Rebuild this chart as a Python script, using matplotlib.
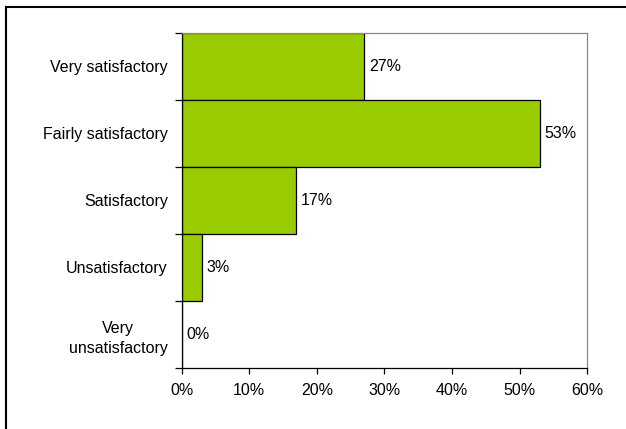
import numpy as np
import matplotlib
matplotlib.use('Agg')
import matplotlib.pyplot as plt
from matplotlib.patches import Rectangle
from matplotlib.ticker import FixedLocator, PercentFormatter

categories = ['Very satisfactory', 'Fairly satisfactory', 'Satisfactory',
              'Unsatisfactory', 'Very\nunsatisfactory']
values = [27, 53, 17, 3, 0]
xticks = [0, 10, 20, 30, 40, 50, 60]

plt.rcParams['font.family'] = ['Liberation Sans', 'DejaVu Sans']
plt.rcParams['font.size'] = 11.5

fig = plt.figure(figsize=(6.26, 4.29), dpi=100)
# outer border of the chart area
fig.patches.append(Rectangle((6 / 626, -0.1), 1.2, 1 - 7.5 / 429 + 0.1,
                             transform=fig.transFigure, fill=False,
                             edgecolor='black', linewidth=1.5))

ax = fig.add_axes([0.290, 0.142, 0.648, 0.782])
pos = np.arange(len(categories))
ax.barh(pos, values, height=1.0, color='#99CC00', edgecolor='black',
        linewidth=0.9, zorder=2)

for p, v in zip(pos, values):
    ax.text(v + 0.7, p, f'{v}%', va='center', ha='left')

ax.set_xlim(0, 60)
ax.set_ylim(len(categories) - 0.5, -0.5)
ax.set_xticks(xticks)
ax.xaxis.set_major_formatter(PercentFormatter(decimals=0))
ax.set_yticks(pos)
ax.set_yticklabels(categories, multialignment='center', linespacing=1.4)
ax.yaxis.set_minor_locator(FixedLocator(np.arange(-0.5, len(categories), 1)))
ax.tick_params(axis='y', which='major', length=0, pad=10)
ax.tick_params(axis='y', which='minor', length=5, width=0.9, direction='out')
ax.tick_params(axis='x', length=4, width=0.9, direction='out', pad=7)

for side in ['top', 'right']:
    ax.spines[side].set_color('#888888')
    ax.spines[side].set_linewidth(0.9)
for side in ['left', 'bottom']:
    ax.spines[side].set_color('black')
    ax.spines[side].set_linewidth(0.9)

fig.savefig('out.png', dpi=100)
